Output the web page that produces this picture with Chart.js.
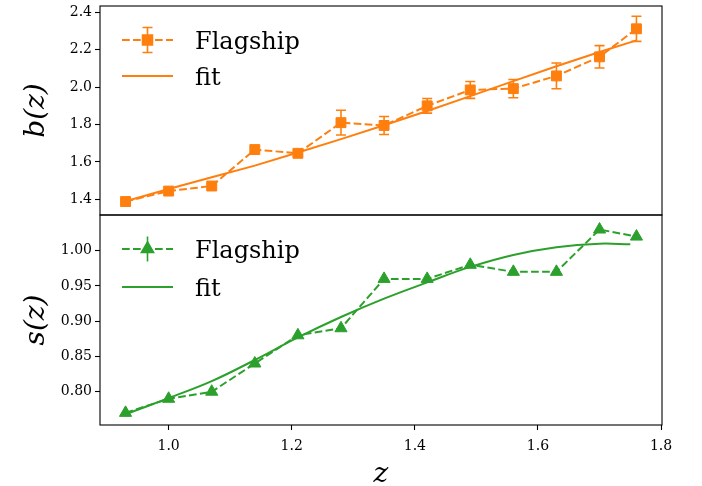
<!DOCTYPE html>
<html>
<head>
<meta charset="utf-8">
<script src="https://cdn.jsdelivr.net/npm/chart.js@4"></script>
<style>
  body { margin: 0; background: #fff; overflow: hidden; }
  #wrap { position: relative; width: 702px; height: 486px; overflow: hidden; }
  #wrap canvas { position: absolute; left: 0; }
  #chartShift { top: 0; }
  #chartBias { top: -20px; }
</style>
</head>
<body>
<div id="wrap">
  <canvas id="chartShift" width="702" height="486"></canvas>
  <canvas id="chartBias" width="702" height="486"></canvas>
</div>
<script>
// redshift bins
const zValues = [0.93, 1.00, 1.07, 1.14, 1.21, 1.28, 1.35, 1.42, 1.49, 1.56, 1.63, 1.70, 1.76];

// b(z) measurements + errors
const biasValues = [1.388, 1.444, 1.471, 1.666, 1.646, 1.810, 1.795, 1.900, 1.985, 1.992, 2.060, 2.162, 2.312];
const biasErrors = [0.008, 0.010, 0.012, 0.012, 0.015, 0.066, 0.048, 0.039, 0.045, 0.049, 0.069, 0.060, 0.067];
const biasFit = [1.390, 1.455, 1.518, 1.580, 1.650, 1.722, 1.796, 1.872, 1.952, 2.032, 2.112, 2.188, 2.250];

// s(z) measurements
const shiftValues = [0.77, 0.79, 0.80, 0.84, 0.88, 0.89, 0.96, 0.96, 0.98, 0.97, 0.97, 1.03, 1.02];
const shiftFitZ = [0.93, 1.00, 1.07, 1.14, 1.21, 1.28, 1.35, 1.42, 1.49, 1.56, 1.63, 1.70, 1.75];
const shiftFit = [0.768, 0.791, 0.815, 0.845, 0.877, 0.906, 0.932, 0.955, 0.977, 0.994, 1.005, 1.010, 1.009];

// ticks
const xTicks = [1.0, 1.2, 1.4, 1.6, 1.8];
const biasTicks = [1.4, 1.6, 1.8, 2.0, 2.2, 2.4];
const shiftTicks = [0.80, 0.85, 0.90, 0.95, 1.00];

const ORANGE = '#ff7f0e';
const GREEN = '#2ca02c';
const SERIF = "'DejaVu Serif', serif";

const toPoints = (xs, ys) => xs.map((x, i) => ({ x: x, y: ys[i] }));

// box around the plot area
const framePlugin = {
    id: 'frame',
    afterDraw(chart) {
        const { ctx, chartArea: a } = chart;
        ctx.save();
        ctx.strokeStyle = '#000';
        ctx.lineWidth = 1.1;
        ctx.strokeRect(a.left, a.top, a.right - a.left, a.bottom - a.top);
        ctx.restore();
    }
};

// vertical error bars with caps
const errorBarPlugin = {
    id: 'errorBars',
    beforeDatasetsDraw(chart, args, opts) {
        if (!opts.errors) return;
        const { ctx, scales } = chart;
        const pts = chart.data.datasets[opts.datasetIndex].data;
        ctx.save();
        ctx.strokeStyle = opts.color;
        ctx.lineWidth = 1.6;
        pts.forEach((p, i) => {
            const x = scales.x.getPixelForValue(p.x);
            const y0 = scales.y.getPixelForValue(p.y - opts.errors[i]);
            const y1 = scales.y.getPixelForValue(p.y + opts.errors[i]);
            ctx.beginPath();
            ctx.moveTo(x, y0); ctx.lineTo(x, y1);
            ctx.moveTo(x - 5, y0); ctx.lineTo(x + 5, y0);
            ctx.moveTo(x - 5, y1); ctx.lineTo(x + 5, y1);
            ctx.stroke();
        });
        ctx.restore();
    }
};

// matplotlib-like legend inside the axes
const miniLegendPlugin = {
    id: 'miniLegend',
    afterDraw(chart, args, opts) {
        if (!opts.items) return;
        const ctx = chart.ctx;
        ctx.save();
        opts.items.forEach(it => {
            const y = it.y;
            ctx.strokeStyle = opts.color;
            ctx.fillStyle = opts.color;
            ctx.lineWidth = 2;
            ctx.setLineDash(it.dashed ? [7.7, 3.3] : []);
            ctx.beginPath();
            ctx.moveTo(opts.x0, y); ctx.lineTo(opts.x1, y);
            ctx.stroke();
            ctx.setLineDash([]);
            if (it.marker) {
                const cx = (opts.x0 + opts.x1) / 2;
                ctx.lineWidth = 1.6;
                ctx.beginPath();
                ctx.moveTo(cx, y - 12.5); ctx.lineTo(cx, y + 12.5);
                if (it.caps) {
                    ctx.moveTo(cx - 5, y - 12.5); ctx.lineTo(cx + 5, y - 12.5);
                    ctx.moveTo(cx - 5, y + 12.5); ctx.lineTo(cx + 5, y + 12.5);
                }
                ctx.stroke();
                Chart.helpers.drawPoint(ctx, { pointStyle: it.marker, radius: 7, borderWidth: 1 }, cx, y);
                ctx.fill();
            }
            ctx.fillStyle = '#000';
            ctx.font = '24px ' + SERIF;
            ctx.textBaseline = 'alphabetic';
            ctx.fillText(it.label, opts.textX, y + 9);
        });
        ctx.restore();
    }
};

function xScale(showLabels) {
    return {
        type: 'linear',
        min: 0.8885,
        max: 1.8015,
        display: showLabels,
        afterBuildTicks: s => { s.ticks = xTicks.map(v => ({ value: v })); },
        afterFit: s => { s.height = showLabels ? 61 : 0; },
        border: { display: false },
        grid: { drawOnChartArea: false, drawTicks: true, tickLength: 5, tickWidth: 1.1, tickColor: '#000' },
        ticks: {
            color: '#000', padding: 8,
            font: { family: SERIF, size: 14 },
            callback: v => v.toFixed(1)
        },
        title: {
            display: true, text: 'z', color: '#000',
            font: { family: SERIF, size: 28, style: 'italic', lineHeight: 0.8 },
            padding: { bottom: 0 }
        }
    };
}

function yScale(min, max, ticks, digits, label) {
    return {
        type: 'linear',
        min: min,
        max: max,
        afterBuildTicks: s => { s.ticks = ticks.map(v => ({ value: v })); },
        afterFit: s => { s.width = 100; },
        border: { display: false },
        grid: { drawOnChartArea: false, drawTicks: true, tickLength: 5, tickWidth: 1.1, tickColor: '#000' },
        ticks: {
            color: '#000', padding: 3,
            font: { family: SERIF, size: 14 },
            callback: v => v.toFixed(digits)
        },
        title: {
            display: true, text: label, color: '#000',
            font: { family: SERIF, size: 28, style: 'italic', lineHeight: 1.2 },
            padding: { top: 20 }
        }
    };
}

new Chart(document.getElementById('chartBias'), {
    type: 'line',
    data: {
        datasets: [
            {
                label: 'Flagship',
                data: toPoints(zValues, biasValues),
                borderColor: ORANGE,
                backgroundColor: ORANGE,
                borderWidth: 2,
                borderDash: [7.7, 3.3],
                pointStyle: 'rect',
                pointRadius: 7,
                pointBorderWidth: 1,
                tension: 0,
                order: 2
            },
            {
                label: 'fit',
                data: toPoints(zValues, biasFit),
                borderColor: ORANGE,
                borderWidth: 2,
                pointRadius: 0,
                tension: 0,
                order: 1
            }
        ]
    },
    options: {
        responsive: false,
        animation: false,
        // canvas sits 20px above the page top; plot box spans page y 6..215
        layout: { padding: { left: 0, right: 40, top: 26, bottom: 251 } },
        scales: {
            x: xScale(false),
            y: yScale(1.316, 2.434, biasTicks, 1, 'b(z)')
        },
        plugins: {
            legend: { display: false },
            tooltip: { enabled: false },
            errorBars: { datasetIndex: 0, errors: biasErrors, color: ORANGE },
            miniLegend: {
                color: ORANGE, x0: 122, x1: 173, textX: 195,
                items: [
                    { label: 'Flagship', y: 60, dashed: true, marker: 'rect', caps: true },
                    { label: 'fit', y: 96, dashed: false }
                ]
            }
        }
    },
    plugins: [framePlugin, errorBarPlugin, miniLegendPlugin]
});

new Chart(document.getElementById('chartShift'), {
    type: 'line',
    data: {
        datasets: [
            {
                label: 'Flagship',
                data: toPoints(zValues, shiftValues),
                borderColor: GREEN,
                backgroundColor: GREEN,
                borderWidth: 2,
                borderDash: [7.7, 3.3],
                pointStyle: 'triangle',
                pointRadius: 7,
                pointBorderWidth: 1,
                tension: 0,
                order: 2
            },
            {
                label: 'fit',
                data: toPoints(shiftFitZ, shiftFit),
                borderColor: GREEN,
                borderWidth: 2,
                pointRadius: 0,
                tension: 0.4,
                order: 1
            }
        ]
    },
    options: {
        responsive: false,
        animation: false,
        layout: { padding: { left: 0, right: 40, top: 215, bottom: 0 } },
        scales: {
            x: xScale(true),
            y: yScale(0.7528, 1.0506, shiftTicks, 2, 's(z)')
        },
        plugins: {
            legend: { display: false },
            tooltip: { enabled: false },
            miniLegend: {
                color: GREEN, x0: 122, x1: 173, textX: 195,
                items: [
                    { label: 'Flagship', y: 249, dashed: true, marker: 'triangle', caps: false },
                    { label: 'fit', y: 287, dashed: false }
                ]
            }
        }
    },
    plugins: [framePlugin, miniLegendPlugin]
});
</script>
</body>
</html>
